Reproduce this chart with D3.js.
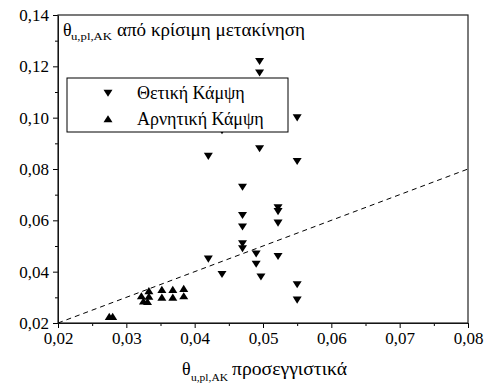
<!DOCTYPE html>
<html>
<head>
<meta charset="utf-8">
<script src="https://cdn.jsdelivr.net/npm/d3@7"></script>
<style>
  body { margin: 0; background: #fff; }
  svg text { font-family: "Liberation Serif", "DejaVu Serif", serif; fill: #000; }
</style>
</head>
<body>
<div id="chart"></div>
<script>
// data
var posX = [0.0495, 0.0495, 0.044, 0.055, 0.0495, 0.042, 0.055, 0.047, 0.047, 0.047, 0.047, 0.047,
            0.0522, 0.0522, 0.0522, 0.0522, 0.049, 0.049, 0.0497, 0.042, 0.044, 0.055, 0.055];
var posY = [0.122, 0.1175, 0.095, 0.100, 0.088, 0.085, 0.083, 0.073, 0.062, 0.0575, 0.051, 0.049,
            0.065, 0.0635, 0.059, 0.046, 0.047, 0.043, 0.038, 0.045, 0.039, 0.035, 0.029];
var negX = [0.0275, 0.028, 0.0322, 0.0325, 0.0333, 0.0333, 0.0331, 0.0352, 0.0352, 0.0368, 0.0368, 0.0384, 0.0384];
var negY = [0.0225, 0.0225, 0.0305, 0.0285, 0.0325, 0.0303, 0.0283, 0.0330, 0.0300, 0.0330, 0.0300, 0.0334, 0.0305];

var xTicks = [0.02, 0.03, 0.04, 0.05, 0.06, 0.07, 0.08];
var yTicks = [0.02, 0.04, 0.06, 0.08, 0.10, 0.12, 0.14];
var legendNames = ["Θετική Κάμψη", "Αρνητική Κάμψη"];

var width = 489, height = 383;
var mLeft = 58, mRight = 468, mTop = 15, mBottom = 323;

var svg = d3.select("#chart").append("svg")
    .attr("width", width)
    .attr("height", height);

var x = d3.scaleLinear().domain([0.02, 0.08]).range([mLeft, mRight]);
var y = d3.scaleLinear().domain([0.02, 0.14]).range([mBottom, mTop]);

var fmt = function(d) { return d3.format(".2f")(d).replace(".", ","); };

// minor ticks halfway between the labelled ones
var xMinor = d3.range(0.025, 0.08, 0.01);
var yMinor = d3.range(0.03, 0.14, 0.02);

// x axis
svg.append("g")
    .attr("transform", "translate(0," + mBottom + ")")
    .call(d3.axisBottom(x).tickValues(xMinor).tickSize(3).tickFormat(""))
    .call(function(g) { g.select(".domain").remove(); });
var xAxis = svg.append("g")
    .attr("transform", "translate(0," + mBottom + ")")
    .call(d3.axisBottom(x).tickValues(xTicks).tickSize(5).tickSizeOuter(0).tickFormat(fmt));
xAxis.attr("font-family", null);
xAxis.selectAll("text").attr("font-size", 17).attr("dy", "0.78em");

// y axis
svg.append("g")
    .attr("transform", "translate(" + mLeft + ",0)")
    .call(d3.axisLeft(y).tickValues(yMinor).tickSize(3).tickFormat(""))
    .call(function(g) { g.select(".domain").remove(); });
var yAxis = svg.append("g")
    .attr("transform", "translate(" + mLeft + ",0)")
    .call(d3.axisLeft(y).tickValues(yTicks).tickSize(5).tickSizeOuter(0).tickFormat(fmt));
yAxis.attr("font-family", null);
yAxis.selectAll("text").attr("font-size", 17).attr("x", -9);

svg.selectAll(".tick line").attr("stroke", "#000");

// frame
svg.append("rect")
    .attr("x", mLeft).attr("y", mTop)
    .attr("width", mRight - mLeft).attr("height", mBottom - mTop)
    .attr("fill", "none").attr("stroke", "#222").attr("stroke-width", 1.2);

// y = x reference line
svg.append("line")
    .attr("x1", x(0.02)).attr("y1", y(0.02))
    .attr("x2", x(0.08)).attr("y2", y(0.08))
    .attr("stroke", "#000").attr("stroke-width", 1)
    .attr("stroke-dasharray", "5,4");

var downTri = "M-4.5,-3.3L4.5,-3.3L0,3.8Z";
var upTri = "M-4.5,3.3L4.5,3.3L0,-3.8Z";

svg.append("g").selectAll("path")
    .data(d3.range(posX.length))
    .join("path")
    .attr("d", downTri)
    .attr("transform", function(i) { return "translate(" + x(posX[i]) + "," + y(posY[i]) + ")"; })
    .attr("fill", "#000");

svg.append("g").selectAll("path")
    .data(d3.range(negX.length))
    .join("path")
    .attr("d", upTri)
    .attr("transform", function(i) { return "translate(" + x(negX[i]) + "," + y(negY[i]) + ")"; })
    .attr("fill", "#000");

// legend
var legend = svg.append("g");
legend.append("rect")
    .attr("x", 67).attr("y", 78).attr("width", 221).attr("height", 54)
    .attr("fill", "#fff").attr("stroke", "#000").attr("stroke-width", 1);
legend.append("path").attr("d", downTri).attr("transform", "translate(108,93)");
legend.append("path").attr("d", upTri).attr("transform", "translate(108,119)");
legend.selectAll("text.leg")
    .data(legendNames)
    .join("text")
    .attr("class", "leg")
    .attr("x", 137)
    .attr("y", function(d, i) { return 99 + i * 26; })
    .attr("font-size", 18)
    .text(function(d) { return d; });

// titles: symbol, subscript and words placed where the reference has them
function title(x0, base, subX, subLen, subDy, wordX, wordLen, words) {
    svg.append("text").attr("x", x0).attr("y", base).attr("font-size", 18).text("θ");
    svg.append("text").attr("x", subX).attr("y", base + subDy).attr("font-size", 10)
        .attr("textLength", subLen).attr("lengthAdjust", "spacingAndGlyphs").text("u,pl,AK");
    svg.append("text").attr("x", wordX).attr("y", base).attr("font-size", 18)
        .attr("textLength", wordLen).attr("lengthAdjust", "spacingAndGlyphs").text(words);
}
title(63, 36, 71, 41, 4, 117, 188, "από κρίσιμη μετακίνηση");
title(182, 375, 191, 37, 6, 232, 115, "προσεγγιστικά");
</script>
</body>
</html>
